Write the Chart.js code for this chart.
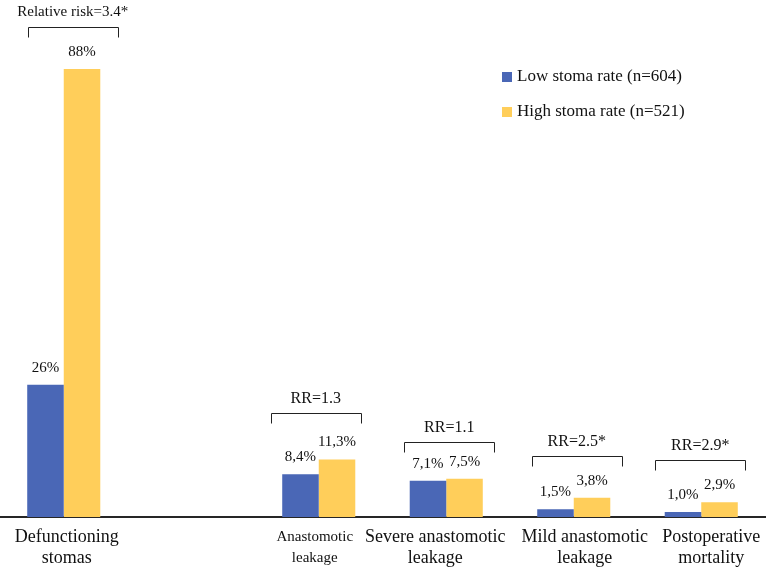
<!DOCTYPE html>
<html>
<head>
<meta charset="utf-8">
<script src="https://cdn.jsdelivr.net/npm/chart.js@4.4.1/dist/chart.umd.min.js"></script>
<style>
  html, body { margin: 0; padding: 0; background: #ffffff; }
  #wrap { width: 767px; height: 567px; position: relative; }
</style>
</head>
<body>
<div id="wrap"><canvas id="c"></canvas></div>
<script>
// ---- data ----
const categories = [
  ['Defunctioning', 'stomas'],
  '',
  ['Anastomotic', 'leakage'],
  ['Severe anastomotic', 'leakage'],
  ['Mild anastomotic', 'leakage'],
  ['Postoperative', 'mortality']
];
const seriesNames = ['Low stoma rate (n=604)', 'High stoma rate (n=521)'];
const lowStoma = [26, null, 8.4, 7.1, 1.5, 1.0];
const highStoma = [88, null, 11.3, 7.5, 3.8, 2.9];
const valueDecimals = [0, null, 1, 1, 1, 1];
const riskLabels = ['Relative risk=3.4*', null, 'RR=1.3', 'RR=1.1', 'RR=2.5*', 'RR=2.9*'];

// ---- styling / annotation geometry ----
const SERIF = '"Liberation Serif", "Times New Roman", serif';
const colors = ['#4A67B6', '#FFCE5A'];
const bracketOpts = {
  rise:  [42, null, 46, 37, 42, 42],
  shift: [9, null, -3, 3, 3, -1],
  fontSize: [15, null, 16, 16, 16, 16],
  width: 90,
  leg: 10,
  textGap: 15
};
const xLabelOpts = {
  shift: [3, 0, -4, -11, 11, 10],
  fontSize: [18, 18, 15, 18, 18, 18],
  firstLine: 537,
  lineGap: 21
};

function fmt(v, d) {
  return v.toFixed(d).replace('.', ',') + '%';
}

const valueLabels = {
  id: 'valueLabels',
  afterDatasetsDraw(chart) {
    const ctx = chart.ctx;
    ctx.save();
    ctx.fillStyle = '#111';
    ctx.font = '15px ' + SERIF;
    ctx.textAlign = 'center';
    ctx.textBaseline = 'middle';
    chart.data.datasets.forEach((ds, di) => {
      const meta = chart.getDatasetMeta(di);
      meta.data.forEach((el, i) => {
        const v = ds.data[i];
        if (v === null || v === undefined) return;
        ctx.fillText(fmt(v, valueDecimals[i]), el.x, el.y - 17);
      });
    });
    ctx.restore();
  }
};

const brackets = {
  id: 'brackets',
  afterDatasetsDraw(chart) {
    const ctx = chart.ctx;
    const m0 = chart.getDatasetMeta(0).data;
    const m1 = chart.getDatasetMeta(1).data;
    const xs = chart.scales.x;
    ctx.save();
    ctx.strokeStyle = '#222';
    ctx.lineWidth = 1;
    ctx.fillStyle = '#111';
    ctx.textAlign = 'center';
    ctx.textBaseline = 'middle';
    riskLabels.forEach((lab, i) => {
      if (!lab) return;
      const topBar = Math.min(m0[i].y, m1[i].y);
      const cx = xs.getPixelForValue(i) + bracketOpts.shift[i];
      const y = Math.round(topBar - bracketOpts.rise[i]) + 0.5;
      const l = Math.round(cx - bracketOpts.width / 2) + 0.5;
      const r = Math.round(cx + bracketOpts.width / 2) + 0.5;
      ctx.beginPath();
      ctx.moveTo(l, y + bracketOpts.leg);
      ctx.lineTo(l, y);
      ctx.lineTo(r, y);
      ctx.lineTo(r, y + bracketOpts.leg);
      ctx.stroke();
      ctx.font = bracketOpts.fontSize[i] + 'px ' + SERIF;
      ctx.fillText(lab, cx, y - bracketOpts.textGap);
    });
    ctx.restore();
  }
};

const categoryLabels = {
  id: 'categoryLabels',
  afterDraw(chart) {
    const ctx = chart.ctx;
    const xs = chart.scales.x;
    ctx.save();
    ctx.fillStyle = '#111';
    ctx.textAlign = 'center';
    ctx.textBaseline = 'middle';
    chart.data.labels.forEach((lab, i) => {
      if (!lab) return;
      const lines = Array.isArray(lab) ? lab : [lab];
      const cx = xs.getPixelForValue(i) + xLabelOpts.shift[i];
      ctx.font = xLabelOpts.fontSize[i] + 'px ' + SERIF;
      lines.forEach((t, j) => {
        ctx.fillText(t, cx, xLabelOpts.firstLine + j * xLabelOpts.lineGap);
      });
    });
    ctx.restore();
  }
};

const customLegend = {
  id: 'customLegend',
  afterDraw(chart) {
    const ctx = chart.ctx;
    ctx.save();
    ctx.font = '17px ' + SERIF;
    ctx.textAlign = 'left';
    ctx.textBaseline = 'middle';
    chart.data.datasets.forEach((ds, i) => {
      const y = 77 + i * 35;
      ctx.fillStyle = ds.backgroundColor;
      ctx.fillRect(502, y - 5, 10, 10);
      ctx.fillStyle = '#111';
      ctx.fillText(ds.label, 517, y);
    });
    ctx.restore();
  }
};

new Chart(document.getElementById('c'), {
  type: 'bar',
  data: {
    labels: categories,
    datasets: [
      { label: seriesNames[0], data: lowStoma, backgroundColor: colors[0] },
      { label: seriesNames[1], data: highStoma, backgroundColor: colors[1] }
    ]
  },
  options: {
    responsive: true,
    maintainAspectRatio: false,
    animation: false,
    devicePixelRatio: 1,
    layout: { padding: { top: 8, right: 2, left: 0, bottom: 0 } },
    datasets: { bar: { categoryPercentage: 0.573, barPercentage: 1.0, borderWidth: 0 } },
    plugins: { legend: { display: false }, tooltip: { enabled: false } },
    scales: {
      x: {
        grid: { display: false, drawTicks: false },
        border: { display: true, color: '#262626', width: 2 },
        afterFit(s) { s.height = 50; },
        ticks: { display: false }
      },
      y: {
        display: false,
        min: 0,
        max: 100
      }
    }
  },
  plugins: [valueLabels, brackets, categoryLabels, customLegend]
});
</script>
</body>
</html>
